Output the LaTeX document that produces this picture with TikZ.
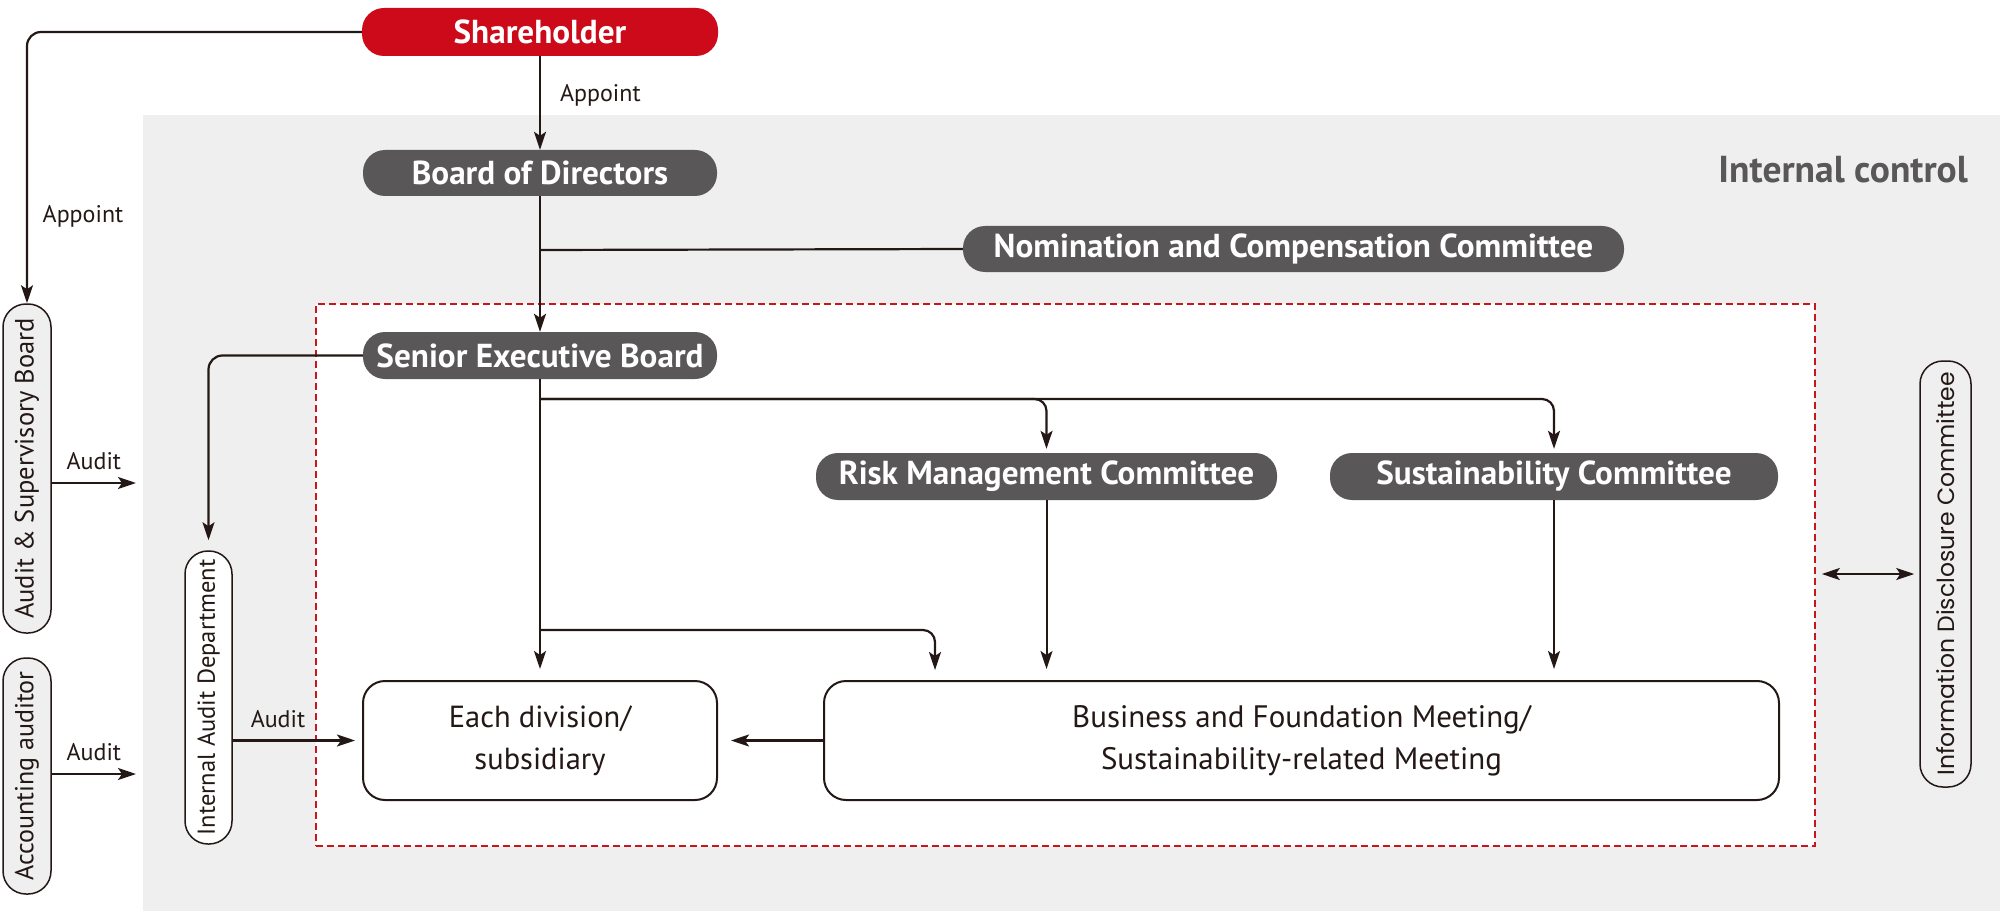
\documentclass[tikz,border=0pt]{standalone}
\usepackage{fontspec}
\setmainfont{PT Sans}
\newfontfamily\geo{Poppins}
\usetikzlibrary{arrows.meta}
\definecolor{dgrey}{HTML}{595757}
\definecolor{bgrey}{HTML}{EFEFEF}
\definecolor{shred}{HTML}{CC0A1A}
\definecolor{dashred}{HTML}{C8161D}
\definecolor{ink}{HTML}{231815}
\tikzset{
  pill/.style={rectangle, rounded corners=22pt, fill=dgrey, text=white,
    font=\bfseries\fontsize{33.2}{36}\selectfont, minimum height=46pt, inner sep=0pt},
  redpill/.style={pill, fill=shred, minimum height=48pt},
  wbox/.style={rectangle, rounded corners=22pt, draw=ink, line width=2pt, fill=white,
    font=\fontsize{31}{42}\selectfont, text=ink, align=center, inner sep=0pt, minimum height=119pt},
  vpill/.style={rectangle, rounded corners=23pt, draw=ink, line width=1.5pt, inner sep=0pt,
    font=\fontsize{26}{28}\selectfont, text=ink},
  conn/.style={draw=ink, line width=2.2pt},
  arr/.style={conn, -{Stealth[length=18pt,width=12pt,inset=4pt]}},
  thinarr/.style={arr, line width=2pt},
  lbl/.style={font=\fontsize{24}{26}\selectfont, text=ink, inner sep=0pt},
}
\begin{document}
\begin{tikzpicture}[x=1pt,y=-1pt]
\useasboundingbox (0,0) rectangle (2000,920);
% background
\fill[bgrey] (143,115) rectangle (2000,911);
\node[anchor=east, text=dgrey, font=\bfseries\fontsize{37.5}{40}\selectfont, inner sep=0pt] (ic) at (1968,170) {Internal control};
% dashed control area
\node[draw=dashred, dashed, dash pattern=on 7pt off 4pt, line width=1.6pt, fill=white,
  minimum width=1499pt, minimum height=542pt, inner sep=0pt] (ctrl) at (1065.5,575) {};

% nodes
\node[redpill, minimum width=356pt] (sh) at (540,32) {Shareholder};
\node[pill, minimum width=354pt] (bod) at (540,173) {Board of Directors};
\node[pill, minimum width=661pt] (nom) at (1293.5,249) {Nomination and Compensation Committee};
\node[pill, minimum width=354pt, minimum height=47pt] (ses) at (540,355.5) {Senior Executive Board};
\node[pill, minimum width=461pt, minimum height=47pt] (risk) at (1046.5,476.5) {Risk Management Committee};
\node[pill, minimum width=448pt, minimum height=47pt] (sust) at (1554,476.5) {Sustainability Committee};
\node[wbox, minimum width=354pt, font=\fontsize{30.5}{42}\selectfont] (div) at (540,740.5) {Each division/\\subsidiary};
\node[wbox, minimum width=955pt] (bus) at (1301.5,740.5) {Business and Foundation Meeting/\\Sustainability-related Meeting};

\node[vpill, fill=bgrey, minimum width=48pt, minimum height=329pt, font=\fontsize{26.5}{28}\selectfont] (asb) at (27,468.5) {\rotatebox{90}{Audit \& Supervisory Board}};
\node[vpill, fill=bgrey, minimum width=48pt, minimum height=236pt] (acc) at (27,776) {\rotatebox{90}{Accounting auditor}};
\node[vpill, fill=white, minimum width=47pt, minimum height=293pt, font=\fontsize{24.5}{26}\selectfont] (iad) at (208.5,697.5) {\rotatebox{90}{Internal Audit Department}};
\node[vpill, fill=bgrey, minimum width=51pt, minimum height=426pt, font=\geo\fontsize{23.5}{25}\selectfont] (idc) at (1945.5,574) {\rotatebox{90}{Information Disclosure Committee}};

% free-end coordinates
\coordinate (asbout) at (136,483);
\coordinate (accout) at (136,774);
\coordinate (br1) at (540,250);
\coordinate (br2) at (540,399);
\coordinate (br3) at (540,630);
\coordinate (busin) at (935,681);

% connectors
\draw[arr] (sh.south) -- (bod.north) node[lbl, pos=0.42, anchor=west, xshift=19pt] {Appoint};
\draw[arr, rounded corners=14pt] (sh.west) -| (asb.north);
\node[lbl] (apl) at (83,216) {Appoint};
\draw[arr] (bod.south) -- (ses.north);
\draw[conn] (br1) -- (nom.west);
\draw[arr, rounded corners=14pt, shorten >=10pt] (ses.west) -| (iad.north);
\draw[arr, shorten >=11pt] (ses.south) -- (div.north);
\draw[arr, rounded corners=12pt, shorten >=4pt] (br2) -| (risk.north);
\draw[arr, rounded corners=12pt, shorten >=4pt] (br2) -| (sust.north);
\draw[arr, rounded corners=12pt, shorten >=11pt] (br3) -| (busin);
\draw[thinarr, shorten >=11pt] (risk.south) -- (risk.south |- bus.north);
\draw[thinarr, shorten >=11pt] (sust.south) -- (sust.south |- bus.north);
\draw[arr, shorten >=13pt] (bus.west) -- (div.east);
\draw[arr, shorten >=7pt] (iad.east |- div.west) -- (div.west) node[lbl, pos=0.35, above=12pt] {Audit};
\draw[arr] (asb.east |- asbout) -- (asbout) node[lbl, midway, above=12pt] {Audit};
\draw[arr] (acc.east |- accout) -- (accout) node[lbl, midway, above=12pt] {Audit};
\draw[conn, {Stealth[length=18pt,width=12pt,inset=4pt]}-{Stealth[length=18pt,width=12pt,inset=4pt]}, shorten <=6pt, shorten >=5pt] (ctrl.east |- idc.west) -- (idc.west);
\end{tikzpicture}
\end{document}
